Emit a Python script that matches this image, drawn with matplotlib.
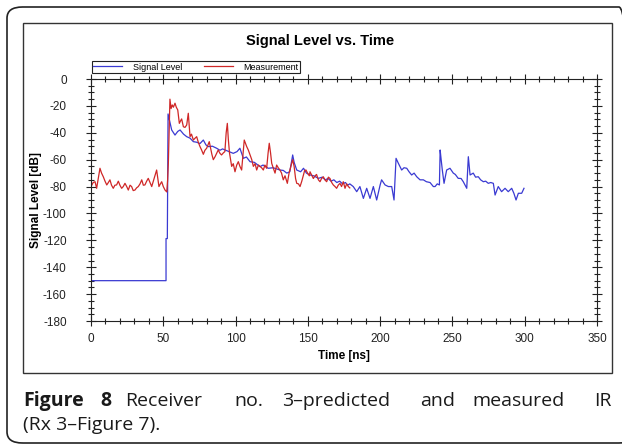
import numpy as np
import matplotlib
matplotlib.use("Agg")
import matplotlib.pyplot as plt
from matplotlib.patches import Rectangle, FancyBboxPatch
from matplotlib.ticker import MultipleLocator

plt.rcParams["axes.unicode_minus"] = False

# predicted impulse response (Signal Level), time in ns, level in dB
sig_t = [0, 51.9, 51.9, 52.8, 53.3, 55.8, 58.1, 60.0, 61.6, 64.0, 66.2, 68.5,
         70.8, 73.0, 75.4, 77.7, 79.5, 81.1, 84.0, 86.9, 89.2, 91.0, 93.2, 95.5,
         98.4, 101.0, 103.0, 105.4, 107.5, 110.0, 113.0, 116.9, 119.0, 122.6,
         126.0, 130.7, 133.0, 135.4, 137.5, 139.5, 140.5, 142.3, 145.0, 147.0,
         149.0, 151.5, 154.0, 157.3, 160.0, 162.0, 164.0, 166.0, 168.0, 170.0,
         172.0, 174.0, 176.0, 177.5, 179.0, 181.4, 183.8, 186.0, 188.4, 190.7,
         193.0, 195.3, 197.6, 200.0, 201.0, 203.4, 205.7, 208.0, 209.6, 211.0,
         212.6, 214.9, 216.5, 218.4, 220.0, 221.8, 223.5, 225.3, 227.6, 229.9,
         232.0, 234.5, 236.8, 238.0, 239.5, 241.0, 241.5, 242.2, 243.0, 244.2,
         246.0, 248.3, 250.6, 252.0, 254.0, 256.0, 257.5, 259.9, 261.0, 262.2,
         264.4, 266.0, 267.9, 269.5, 271.4, 273.0, 274.8, 276.5, 278.3, 279.5,
         281.7, 284.0, 286.4, 288.6, 291.0, 292.5, 294.0, 295.6, 297.9, 299.5]
sig_db = [-150, -150, -118.7, -118.7, -26, -37.9, -41.7, -39, -37.9, -41, -42.9, -44,
          -46.6, -47, -48, -45.4, -49, -50.3, -50, -51.5, -53, -52, -53, -54,
          -55.3, -54, -51.5, -59, -58, -61.5, -62, -65.2, -64, -66.4,
          -66, -67.7, -68, -70, -69, -56.5, -62, -67.7, -69, -66.4,
          -70, -71.4, -72, -73.9, -73, -75, -74, -76, -75, -77,
          -76, -78, -77, -79, -78, -80, -83.8, -80, -88.8, -81.3,
          -88.8, -80, -90, -78.8, -75, -78.8, -80, -80, -90, -59,
          -62.7, -67.7, -66, -66.4, -69, -71.4, -70, -72.7, -75, -75,
          -76.4, -77, -80, -80, -78, -78.8, -52.8, -60, -67.7, -77.6,
          -67.7, -66.4, -70, -71, -73.9, -74, -76.4, -81.3, -57.8, -71.4,
          -70, -73, -72.7, -75, -76.4, -76, -77.6, -77, -77.6, -86.3,
          -80, -83.8, -81.3, -83.8, -81.3, -85, -90, -85, -85, -81.3]

# measured impulse response
meas_t = [0, 1.5, 2.8, 3.9, 5.0, 6.2, 7.3, 8.5, 9.7, 10.9, 12.0, 13.1, 14.2, 15.4,
          16.5, 17.7, 18.9, 20.0, 21.2, 22.3, 23.5, 24.7, 25.8, 27.0, 28.1, 29.2,
          30.4, 31.5, 32.7, 33.9, 35.1, 36.2, 37.3, 38.5, 39.6, 40.8, 42.0, 43.1,
          44.3, 45.4, 46.2, 47.0, 48.0, 48.9, 50.0, 51.2, 52.4, 53.0, 53.5, 54.6,
          55.4, 56.2, 57.0, 58.1, 59.0, 60.0, 61.1, 62.0, 62.7, 63.9, 65.0, 66.2,
          67.3, 68.5, 69.5, 70.8, 72.0, 73.1, 74.2, 75.4, 76.5, 77.7, 78.8, 80.0,
          81.8, 83.6, 84.6, 85.8, 87.0, 88.0, 89.2, 90.3, 91.5, 92.6, 93.5, 94.3,
          95.0, 95.8, 97.3, 98.4, 99.6, 100.8, 101.9, 103.0, 104.2, 105.2, 106.0,
          107.7, 108.8, 110.0, 111.2, 112.3, 113.5, 114.6, 115.8, 116.9, 118.0,
          119.2, 120.3, 121.5, 122.5, 123.3, 124.2, 125.0, 126.0, 127.3, 128.4,
          129.5, 130.7, 131.8, 133.0, 134.2, 135.8, 137.0, 138.8, 139.5, 140.5,
          141.5, 142.3, 143.5, 144.6, 145.8, 146.8, 147.8, 148.7, 149.8, 151.0,
          151.5, 152.6, 153.8, 155.0, 156.0, 157.3, 158.4, 159.5, 160.7, 161.8,
          163.0, 164.2, 165.3, 166.5, 167.6, 168.8, 169.9, 171.0, 172.2, 173.3,
          174.5, 175.7, 176.8, 178.0, 179.0]
meas_db = [-80, -77, -76.4, -81.3, -74, -66.4, -70, -72.7, -76, -78.8, -77, -75, -79, -81.3,
           -79, -78.8, -76, -79, -81.3, -80, -77.6, -80, -82.6, -79, -80, -83,
           -82.6, -81, -80, -78, -75, -79, -78.8, -76, -73.9, -77, -80, -76,
           -71.4, -67.7, -74, -80, -78, -76.4, -80, -82.6, -84, -75, -62.7, -15,
           -22, -19.3, -21, -18, -21, -23, -33, -31, -29.7, -35.5, -36, -34.2,
           -25.5, -42.9, -41, -45.4, -44, -42.9, -47, -50.3, -52.8, -56, -53, -51.5,
           -46.6, -56, -60, -57.8, -55, -52.8, -55.3, -56.5, -55, -54, -40, -33,
           -45, -55, -65, -63, -69, -64, -61.5, -65, -67.7, -55, -45.4,
           -50.3, -52.8, -56.5, -60, -65, -63, -67.7, -64, -65, -66,
           -67.7, -64, -66.4, -55, -47.8, -55, -62.7, -66, -70, -64,
           -66, -67.7, -70, -75, -72, -77.6, -70, -62.7, -60, -65,
           -74, -77.6, -78, -80, -76, -72, -68, -67.7, -70, -72,
           -69, -71.4, -74, -72, -71, -75, -76.4, -74, -72.7, -75,
           -76.4, -73, -74, -77, -78.8, -80, -81.3, -79, -77.6, -80,
           -76.4, -81.3, -78, -80, -81]

x_ticks = [0, 50, 100, 150, 200, 250, 300, 350]
y_ticks = [0, -20, -40, -60, -80, -100, -120, -140, -160, -180]

W, H = 622, 445
chart_font = ["Liberation Sans Narrow", "Liberation Sans", "DejaVu Sans"]
cap_font = ["Open Sans", "DejaVu Sans"]

fig = plt.figure(figsize=(W / 100, H / 100), dpi=100)


def px(x, y):
    # pixel (from top-left) to figure fraction
    return x / W, 1 - y / H


# outer rounded frame and inner chart frame
x0, y0 = px(7, 443)
fig.patches.append(FancyBboxPatch((x0, y0), 1.02 - x0, px(0, 7)[1] - y0,
                                  boxstyle="round,pad=0,rounding_size=0.025",
                                  transform=fig.transFigure, fill=False,
                                  edgecolor="#222222", linewidth=1.2))
x0, y0 = px(22.5, 373)
fig.patches.append(Rectangle((x0, y0), 612 / W - x0, px(0, 23)[1] - y0,
                             transform=fig.transFigure, fill=False,
                             edgecolor="#333333", linewidth=1.0))

l, b = px(91, 321)
r, t = px(597, 79)
ax = fig.add_axes([l, b, r - l, t - b])
line_sig, = ax.plot(sig_t, sig_db, color="#3a3ad2", lw=0.9, label="Signal Level")
line_meas, = ax.plot(meas_t, meas_db, color="#cf2727", lw=0.9, label="Measurement")

ax.set_xlim(0, 350)
ax.set_ylim(-180, 0)
ax.set_xticks(x_ticks)
ax.set_yticks(y_ticks)
ax.xaxis.set_minor_locator(MultipleLocator(10))
ax.yaxis.set_minor_locator(MultipleLocator(5))
ax.tick_params(which="both", direction="inout", top=True, right=True, width=0.8,
               color="#222222")
ax.tick_params(which="major", length=7)
ax.tick_params(which="minor", length=4.5)
ax.tick_params(axis="x", which="major", pad=5.5, labelsize=8.5)
ax.tick_params(axis="y", which="major", pad=14, labelsize=8.5)
for lab in ax.get_xticklabels() + ax.get_yticklabels():
    lab.set_family(chart_font)
    lab.set_color("#222222")
for sp in ax.spines.values():
    sp.set_linewidth(0.8)
    sp.set_color("#222222")

ax.set_xlabel("Time [ns]", family=chart_font, fontweight="bold", fontsize=8.5,
              labelpad=3)
fig.text(*px(36, 200), "Signal Level [dB]", rotation=90, ha="center", va="center",
         family=chart_font, fontweight="bold", fontsize=8.5)
fig.text(*px(320, 41), "Signal Level vs. Time", ha="center", va="center",
         family=chart_font, fontweight="bold", fontsize=10.5)

lx, ly = px(92, 73)
leg = ax.legend(handles=[line_sig, line_meas], ncol=2, loc="lower left",
                bbox_to_anchor=(lx, ly, 300 / W - lx, 13 / H),
                bbox_transform=fig.transFigure, mode="expand",
                prop={"family": chart_font, "size": 6.5}, handlelength=3.2,
                handletextpad=1.2, borderpad=0.15, borderaxespad=0,
                fancybox=False, framealpha=1, edgecolor="#222222")
leg.get_frame().set_linewidth(0.8)

# figure caption (justified first line)
cap1 = [("Figure", 23, "bold"), ("8", 100, "bold"), ("Receiver", 125, "normal"),
        ("no.", 234, "normal"), ("3\u2013predicted", 282, "normal"),
        ("and", 420, "normal"), ("measured", 472, "normal")]
for word, xp, wt in cap1:
    fig.text(*px(xp, 406), word, ha="left", va="baseline", family=cap_font,
             fontweight=wt, fontsize=14, color="#1a1a1a")
fig.text(*px(612, 406), "IR", ha="right", va="baseline", family=cap_font,
         fontsize=14, color="#1a1a1a")
fig.text(*px(23, 430), "(Rx 3\u2013Figure 7).", ha="left", va="baseline",
         family=cap_font, fontsize=14, color="#1a1a1a")

fig.savefig("out.png", dpi=100)
